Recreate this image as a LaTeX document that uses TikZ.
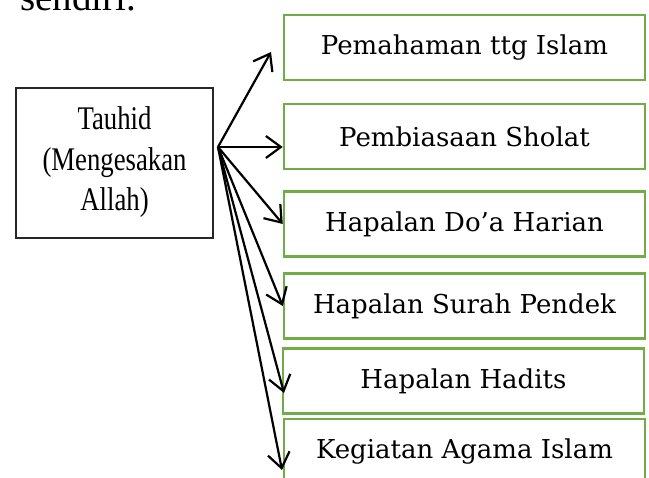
\documentclass[tikz,border=0pt]{standalone}
\usepackage{fontspec}
\newfontfamily\timesf{Liberation Serif}
\newfontfamily\bookf{DejaVu Serif}
\usetikzlibrary{arrows.meta}
\definecolor{ogreen}{RGB}{112,173,71}
\tikzset{
  gbox/.style={draw=ogreen, line width=2.5pt, minimum width=361pt, minimum height=65pt, inner sep=0pt, font=\bookf\fontsize{26}{30}\selectfont},
  arr/.style={line width=2.2pt, -{Straight Barb[length=15pt,width=22pt,line width=2.2pt]}}
}
\begin{document}
\begin{tikzpicture}[x=1pt,y=-1pt]
\useasboundingbox (0,0) rectangle (649,478);
\clip (0,0) rectangle (649,478);
\node[anchor=base west, inner sep=0pt, font=\timesf\fontsize{39}{40}\selectfont] (s) at (20,11) {sendiri.};
\node[draw=black!85, line width=1.8pt, minimum width=197pt, minimum height=150pt, inner sep=0pt] (t) at (114.5,163) {};
\node[anchor=base, inner sep=0pt, font=\timesf\fontsize{33}{40}\selectfont] (t1) at (114.5,130) {\scalebox{0.81}[1]{Tauhid}};
\node[anchor=base, inner sep=0pt, font=\timesf\fontsize{33}{40}\selectfont] (t2) at (114.5,171) {\scalebox{0.81}[1]{(Mengesakan}};
\node[anchor=base, inner sep=0pt, font=\timesf\fontsize{33}{40}\selectfont] (t3) at (114.5,211) {\scalebox{0.81}[1]{Allah)}};
\node[gbox] (b1) at (464.5,47.5) {Pemahaman ttg Islam};
\node[gbox] (b2) at (464.5,136.5) {Pembiasaan Sholat};
\node[gbox] (b3) at (464.5,224) {Hapalan Do’a Harian};
\node[gbox] (b4) at (464.5,306) {Hapalan Surah Pendek};
\node[gbox] (b5) at (463.5,381) {Hapalan Hadits};
\node[gbox] (b6) at (464.5,451.5) {Kegiatan Agama Islam};
\coordinate (o) at (218,147);
\coordinate (e1) at (271,52);
\coordinate (e5) at (284,393);
\coordinate (e6) at (282,470);
\draw[arr] (o) -- (e1);
\draw[arr] (o) -- (o -| b2.west);
\draw[arr] (o) -- (b3.west);
\draw[arr] (o) -- (b4.west);
\draw[arr] (o) -- (e5);
\draw[arr] (o) -- (e6);
\end{tikzpicture}
\end{document}
